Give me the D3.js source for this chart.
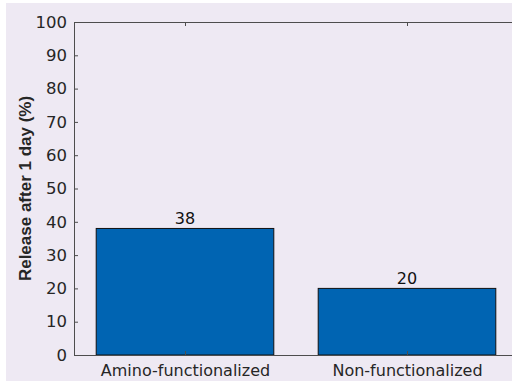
<!DOCTYPE html>
<html>
<head>
<meta charset="utf-8">
<script src="https://cdn.jsdelivr.net/npm/d3@7"></script>
<style>
  body { margin: 0; background: #ffffff; }
  svg { display: block; }
</style>
</head>
<body>
<div id="chart"></div>
<script>
// Data
const categories = ["Amino-functionalized", "Non-functionalized"];
const releaseValues = [38, 20];
const yTicks = [0, 10, 20, 30, 40, 50, 60, 70, 80, 90, 100];

const W = 512, H = 381;
const margin = { top: 22, left: 74, bottom: 26 };
const plotH = H - margin.top - margin.bottom;
const step = 222;          // one category slot, the axes run past the right edge
const barWidth = 0.8;      // matlab default bar width

const svg = d3.select("#chart")
    .append("svg")
    .attr("width", W)
    .attr("height", H);

// figure background (thin white strip at left/top as in the screenshot)
svg.append("rect")
    .attr("x", 6).attr("y", 3)
    .attr("width", W - 6).attr("height", H - 3)
    .attr("fill", "#eee9f3");

const g = svg.append("g")
    .attr("transform", `translate(${margin.left},${margin.top})`);

// x: numeric positions 1..n, limits [0.5, n + 0.5]
const x = d3.scaleLinear()
    .domain([0.5, categories.length + 0.5])
    .range([0, step * categories.length]);

const y = d3.scaleLinear()
    .domain([0, 100])
    .range([plotH, 0]);

const axisColor = "#4d4d4d";
const textColor = "#262626";
const font = "DejaVu Sans, sans-serif";

// bars
g.selectAll(".bar")
    .data(releaseValues)
    .enter()
    .append("rect")
    .attr("class", "bar")
    .attr("x", (d, i) => x(i + 1 - barWidth / 2))
    .attr("y", d => y(d))
    .attr("width", (d, i) => x(i + 1 + barWidth / 2) - x(i + 1 - barWidth / 2))
    .attr("height", d => plotH - y(d))
    .attr("fill", "#0064b2")
    .attr("stroke", "#111")
    .attr("stroke-width", 1);

// value labels on top of bars
g.selectAll(".val")
    .data(releaseValues)
    .enter()
    .append("text")
    .attr("class", "val")
    .attr("x", (d, i) => x(i + 1))
    .attr("y", d => y(d) - 4)
    .attr("text-anchor", "middle")
    .style("font-family", font)
    .style("font-size", "16px")
    .attr("fill", "#111")
    .text(d => d);

// left axis, ticks inside
const yAxis = g.append("g")
    .call(d3.axisLeft(y).tickValues(yTicks).tickSizeInner(-4).tickSizeOuter(0).tickPadding(7));
yAxis.select(".domain").attr("stroke", axisColor);
yAxis.selectAll(".tick line").attr("stroke", axisColor);
yAxis.selectAll(".tick text")
    .attr("fill", textColor)
    .style("font-family", font)
    .style("font-size", "16.5px");

// bottom axis, ticks inside
const xAxis = g.append("g")
    .attr("transform", `translate(0,${plotH})`)
    .call(d3.axisBottom(x).tickValues([1, 2]).tickFormat((d, i) => categories[i])
        .tickSizeInner(-4).tickSizeOuter(0).tickPadding(10));
xAxis.select(".domain").attr("stroke", axisColor);
xAxis.selectAll(".tick line").attr("stroke", axisColor);
xAxis.selectAll(".tick text")
    .attr("fill", textColor)
    .style("font-family", font)
    .style("font-size", "16px");

// top box line with ticks
const topAxis = g.append("g")
    .call(d3.axisTop(x).tickValues([1, 2]).tickFormat("")
        .tickSizeInner(-4).tickSizeOuter(0));
topAxis.select(".domain").attr("stroke", axisColor);
topAxis.selectAll(".tick line").attr("stroke", axisColor);

// y label
g.append("text")
    .attr("transform", "rotate(-90)")
    .attr("x", -plotH / 2)
    .attr("y", -43)
    .attr("text-anchor", "middle")
    .style("font-family", "Liberation Sans, Arial, sans-serif")
    .style("font-weight", "bold")
    .style("font-size", "17px")
    .attr("fill", textColor)
    .text("Release after 1 day (%)");
</script>
</body>
</html>
